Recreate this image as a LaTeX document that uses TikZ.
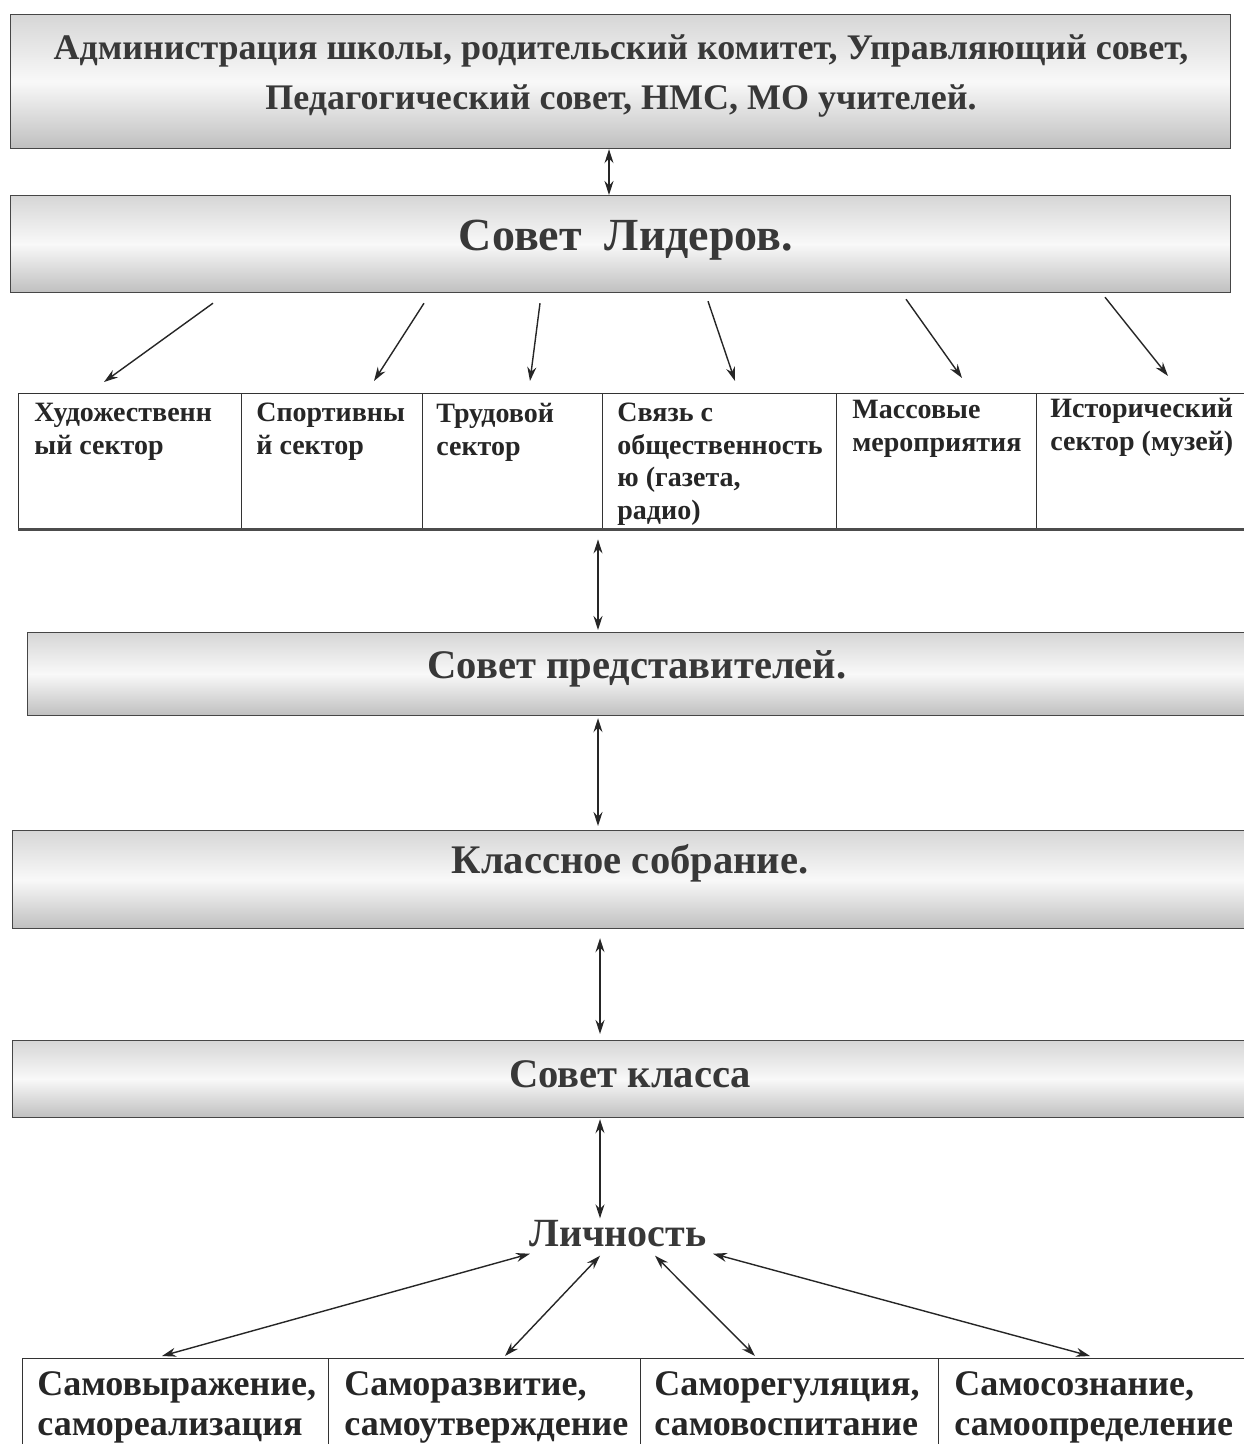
\documentclass[tikz,border=0pt]{standalone}
\usepackage{fontspec}
\setmainfont{Liberation Serif}
\usetikzlibrary{arrows.meta,calc}
\begin{document}
\begin{tikzpicture}[x=0.5pt,y=-0.5pt,
  banner/.style={draw=gray!55!black, line width=0.6pt, top color=gray!32, bottom color=gray!50, middle color=gray!5, anchor=north west, inner sep=0pt},
  btext/.style={text=black!78, font=\bfseries, inner sep=0pt, align=center},
  cell/.style={draw=black!80, line width=0.7pt, anchor=north west, inner sep=0pt},
  stext/.style={text=black!85, font=\bfseries\fontsize{14}{16.25}\selectfont, anchor=north west, inner sep=0pt, align=left},
  ptext/.style={text=black!85, font=\bfseries\fontsize{18}{20}\selectfont, anchor=north west, inner sep=0pt, align=left},
  arr/.style={-{Stealth[length=7pt,width=4.5pt]}, line width=0.7pt, black!85},
  dbl/.style={{Stealth[length=7pt,width=4.5pt]}-{Stealth[length=7pt,width=4.5pt]}, line width=0.7pt, black!85}
]
\useasboundingbox[fill=white] (0,0) rectangle (1243,1444);

% banners
\node[banner, minimum width=610pt, minimum height=67pt] (b1) at (10,14) {};
\node[btext, font=\bfseries\fontsize{18}{25}\selectfont] (t1) at (621,76) {Администрация школы, родительский комитет, Управляющий совет,\\Педагогический совет, НМС, МО учителей.};

\node[banner, minimum width=610pt, minimum height=48.5pt] (b2) at (10,195) {};
\node[btext, font=\bfseries\fontsize{23}{28}\selectfont] (t2) at (626,240) {Совет~~Лидеров.};

% sectors
\node[cell, minimum width=111.5pt, minimum height=67.5pt] (s1) at (18,393) {};
\node[cell, minimum width=90.5pt, minimum height=67.5pt] (s2) at (241,393) {};
\node[cell, minimum width=90pt, minimum height=67.5pt] (s3) at (422,393) {};
\node[cell, minimum width=117pt, minimum height=67.5pt] (s4) at (602,393) {};
\node[cell, minimum width=100pt, minimum height=67.5pt] (s5) at (836,393) {};
\node[cell, minimum width=104pt, minimum height=67.5pt] (s6) at (1036,393) {};
\draw[line width=1.6pt, black!70] (s1.south west) -- (s6.south east);

\node[stext] (st1) at ($(s1.north west)+(16,10)$) {Художественн\\ый сектор};
\node[stext] (st2) at ($(s2.north west)+(15,10)$) {Спортивны\\й сектор};
\node[stext] (st3) at ($(s3.north west)+(14,10)$) {Трудовой\\сектор};
\node[stext] (st4) at ($(s4.north west)+(15,10)$) {Связь с\\общественность\\ю (газета,\\радио)};
\node[stext] (st5) at ($(s5.north west)+(16,7)$) {Массовые\\мероприятия};
\node[stext] (st6) at ($(s6.north west)+(14,5)$) {Исторический\\сектор (музей)};

\node[banner, minimum width=609pt, minimum height=41.5pt] (b3) at (27,632) {};
\node[btext, font=\bfseries\fontsize{20.3}{24}\selectfont] (t3) at (637,669) {Совет представителей.};

\node[banner, minimum width=616.5pt, minimum height=49pt] (b4) at (12,830) {};
\node[btext, font=\bfseries\fontsize{20.3}{24}\selectfont] (t4) at (630,863) {Классное собрание.};

\node[banner, minimum width=616.5pt, minimum height=38.5pt] (b5) at (12,1040) {};
\node[btext, font=\bfseries\fontsize{20.3}{24}\selectfont] (t5) at (630,1074) {Совет класса};

\node[btext, font=\bfseries\fontsize{20}{24}\selectfont] (lich) at (618,1234) {Личность};

% bottom cells
\node[cell, minimum width=153pt, minimum height=50pt] (p1) at (22,1358) {};
\node[cell, minimum width=156pt, minimum height=50pt] (p2) at (328,1358) {};
\node[cell, minimum width=149pt, minimum height=50pt] (p3) at (640,1358) {};
\node[cell, minimum width=153pt, minimum height=50pt] (p4) at (938,1358) {};
\node[ptext] (pt1) at ($(p1.north west)+(15,13)$) {Самовыражение,\\самореализация};
\node[ptext] (pt2) at ($(p2.north west)+(16,13)$) {Саморазвитие,\\самоутверждение};
\node[ptext] (pt3) at ($(p3.north west)+(14,13)$) {Саморегуляция,\\самовоспитание};
\node[ptext] (pt4) at ($(p4.north west)+(16,13)$) {Самосознание,\\самоопределение};

% arrows
\draw[dbl] ($(b1.south west)+(599,0)$) -- ($(b2.north west)+(599,0)$);
\draw[arr] ($(b2.south west)+(203,10)$) -- ($(s1.north west)+(86,-11)$);
\draw[arr] ($(b2.south west)+(414,10)$) -- ($(s2.north west)+(133,-12)$);
\draw[arr] ($(b2.south west)+(530,10)$) -- ($(s3.north west)+(108,-12)$);
\draw[arr] ($(b2.south west)+(698,8)$) -- ($(s4.north west)+(133,-12)$);
\draw[arr] ($(b2.south west)+(896,6)$) -- ($(s5.north west)+(126,-15)$);
\draw[arr] ($(b2.south west)+(1095,4)$) -- ($(s6.north west)+(132,-17)$);

\draw[dbl] ($(s4.south west)+(-4,10)$) -- ($(b3.north west)+(571,-2)$);
\draw[dbl] ($(b3.south west)+(571,2)$) -- ($(b4.north west)+(586,-4)$);
\draw[dbl] ($(b4.south west)+(588,9)$) -- ($(b5.north west)+(588,-6)$);
\draw[dbl] ($(b5.south west)+(588,1)$) -- ($(lich.north)+(-18,-2)$);

\draw[dbl] ($(lich.south)+(-88,6)$) -- ($(p1.north west)+(140,-2)$);
\draw[dbl] ($(lich.south)+(-18,8)$) -- ($(p2.north west)+(177,-2)$);
\draw[dbl] ($(lich.south)+(37,8)$) -- ($(p3.north west)+(115,-2)$);
\draw[dbl] ($(lich.south)+(95,6)$) -- ($(p4.north west)+(152,-2)$);
\end{tikzpicture}
\end{document}
